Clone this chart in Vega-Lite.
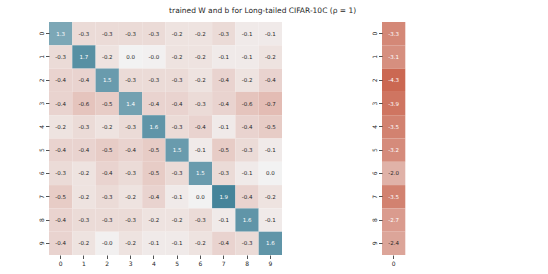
{
  "$schema": "https://vega.github.io/schema/vega-lite/v6.json",
  "background": "white",
  "padding": {"left": 38, "top": 6, "right": 5, "bottom": 5},
  "title": {"text": "trained W and b for Long-tailed CIFAR-10C (ρ = 1)", "anchor": "middle", "dx": 41, "fontSize": 7.5, "fontWeight": "normal", "font": "DejaVu Sans", "color": "#262626", "offset": 8},
  "config": {
    "view": {"stroke": null},
    "font": "DejaVu Sans",
    "axis": {"domain": false, "title": null, "tickSize": 3.5, "tickColor": "#262626", "tickWidth": 0.8, "labelFontSize": 6, "labelColor": "#262626", "labelPadding": 1.5, "grid": false, "labelFont": "DejaVu Sans"},
    "axisX": {"labelColor": "#262626", "tickColor": "#262626"},
    "concat": {"spacing": 88}
  },
  "datasets": {
    "W": [
      {"r":0,"c":0,"v":1.3},{"r":0,"c":1,"v":-0.3},{"r":0,"c":2,"v":-0.3},{"r":0,"c":3,"v":-0.3},{"r":0,"c":4,"v":-0.3},{"r":0,"c":5,"v":-0.2},{"r":0,"c":6,"v":-0.2},{"r":0,"c":7,"v":-0.3},{"r":0,"c":8,"v":-0.1},{"r":0,"c":9,"v":-0.1},
      {"r":1,"c":0,"v":-0.3},{"r":1,"c":1,"v":1.7},{"r":1,"c":2,"v":-0.2},{"r":1,"c":3,"v":0.0},{"r":1,"c":4,"v":-0.02},{"r":1,"c":5,"v":-0.2},{"r":1,"c":6,"v":-0.2},{"r":1,"c":7,"v":-0.1},{"r":1,"c":8,"v":-0.1},{"r":1,"c":9,"v":-0.2},
      {"r":2,"c":0,"v":-0.4},{"r":2,"c":1,"v":-0.4},{"r":2,"c":2,"v":1.5},{"r":2,"c":3,"v":-0.3},{"r":2,"c":4,"v":-0.3},{"r":2,"c":5,"v":-0.3},{"r":2,"c":6,"v":-0.2},{"r":2,"c":7,"v":-0.4},{"r":2,"c":8,"v":-0.2},{"r":2,"c":9,"v":-0.4},
      {"r":3,"c":0,"v":-0.4},{"r":3,"c":1,"v":-0.6},{"r":3,"c":2,"v":-0.5},{"r":3,"c":3,"v":1.4},{"r":3,"c":4,"v":-0.4},{"r":3,"c":5,"v":-0.4},{"r":3,"c":6,"v":-0.3},{"r":3,"c":7,"v":-0.4},{"r":3,"c":8,"v":-0.6},{"r":3,"c":9,"v":-0.7},
      {"r":4,"c":0,"v":-0.2},{"r":4,"c":1,"v":-0.3},{"r":4,"c":2,"v":-0.2},{"r":4,"c":3,"v":-0.3},{"r":4,"c":4,"v":1.6},{"r":4,"c":5,"v":-0.3},{"r":4,"c":6,"v":-0.4},{"r":4,"c":7,"v":-0.1},{"r":4,"c":8,"v":-0.4},{"r":4,"c":9,"v":-0.5},
      {"r":5,"c":0,"v":-0.4},{"r":5,"c":1,"v":-0.4},{"r":5,"c":2,"v":-0.5},{"r":5,"c":3,"v":-0.4},{"r":5,"c":4,"v":-0.5},{"r":5,"c":5,"v":1.5},{"r":5,"c":6,"v":-0.1},{"r":5,"c":7,"v":-0.5},{"r":5,"c":8,"v":-0.3},{"r":5,"c":9,"v":-0.1},
      {"r":6,"c":0,"v":-0.3},{"r":6,"c":1,"v":-0.2},{"r":6,"c":2,"v":-0.4},{"r":6,"c":3,"v":-0.3},{"r":6,"c":4,"v":-0.5},{"r":6,"c":5,"v":-0.3},{"r":6,"c":6,"v":1.5},{"r":6,"c":7,"v":-0.3},{"r":6,"c":8,"v":-0.1},{"r":6,"c":9,"v":0.0},
      {"r":7,"c":0,"v":-0.5},{"r":7,"c":1,"v":-0.2},{"r":7,"c":2,"v":-0.3},{"r":7,"c":3,"v":-0.2},{"r":7,"c":4,"v":-0.4},{"r":7,"c":5,"v":-0.1},{"r":7,"c":6,"v":0.0},{"r":7,"c":7,"v":1.9},{"r":7,"c":8,"v":-0.4},{"r":7,"c":9,"v":-0.2},
      {"r":8,"c":0,"v":-0.4},{"r":8,"c":1,"v":-0.3},{"r":8,"c":2,"v":-0.3},{"r":8,"c":3,"v":-0.3},{"r":8,"c":4,"v":-0.2},{"r":8,"c":5,"v":-0.2},{"r":8,"c":6,"v":-0.3},{"r":8,"c":7,"v":-0.1},{"r":8,"c":8,"v":1.6},{"r":8,"c":9,"v":-0.1},
      {"r":9,"c":0,"v":-0.4},{"r":9,"c":1,"v":-0.2},{"r":9,"c":2,"v":-0.02},{"r":9,"c":3,"v":-0.2},{"r":9,"c":4,"v":-0.1},{"r":9,"c":5,"v":-0.1},{"r":9,"c":6,"v":-0.2},{"r":9,"c":7,"v":-0.4},{"r":9,"c":8,"v":-0.3},{"r":9,"c":9,"v":1.6}
    ],
    "b": [
      {"r":0,"v":-3.3},{"r":1,"v":-3.1},{"r":2,"v":-4.3},{"r":3,"v":-3.9},{"r":4,"v":-3.5},
      {"r":5,"v":-3.2},{"r":6,"v":-2.0},{"r":7,"v":-3.5},{"r":8,"v":-2.7},{"r":9,"v":-2.4}
    ]
  },
  "hconcat": [
    {
      "width": 233, "height": 233,
      "data": {"name": "W"},
      "transform": [{"calculate": "(datum.v < 0 ? '-' : '') + format(abs(datum.v), '.1f')", "as": "label"}],
      "encoding": {
        "x": {"field": "c", "type": "ordinal", "axis": {"labelAngle": 0}},
        "y": {"field": "r", "type": "ordinal", "axis": {"labelAngle": -90}}
      },
      "layer": [
        {"mark": {"type": "rect"}, "encoding": {"color": {"field": "v", "type": "quantitative", "scale": {"domain": [-1.9, 0, 1.9], "range": ["#c8604a", "#f2f2f2", "#45849a"], "interpolate": "rgb"}, "legend": null}}},
        {"mark": {"type": "text", "fontSize": 5.5, "font": "DejaVu Sans"}, "encoding": {"text": {"field": "label"}, "color": {"condition": {"test": "datum.v > 1", "value": "white"}, "value": "#262626"}}}
      ]
    },
    {
      "width": 23.3, "height": 233,
      "data": {"name": "b"},
      "transform": [{"calculate": "(datum.v < 0 ? '-' : '') + format(abs(datum.v), '.1f')", "as": "label"}],
      "encoding": {
        "x": {"datum": 0, "type": "ordinal", "axis": {"labelAngle": 0}},
        "y": {"field": "r", "type": "ordinal", "axis": {"labelAngle": -90}}
      },
      "layer": [
        {"mark": {"type": "rect"}, "encoding": {"color": {"field": "v", "type": "quantitative", "scale": {"domain": [-4.3, 0, 4.3], "range": ["#cb6852", "#f2f2f2", "#45849a"], "interpolate": "rgb"}, "legend": null}}},
        {"mark": {"type": "text", "fontSize": 5.5, "font": "DejaVu Sans"}, "encoding": {"text": {"field": "label"}, "color": {"condition": {"test": "datum.v < -2.55", "value": "white"}, "value": "#262626"}}}
      ]
    }
  ],
  "resolve": {"scale": {"color": "independent", "x": "independent", "y": "independent"}}
}
